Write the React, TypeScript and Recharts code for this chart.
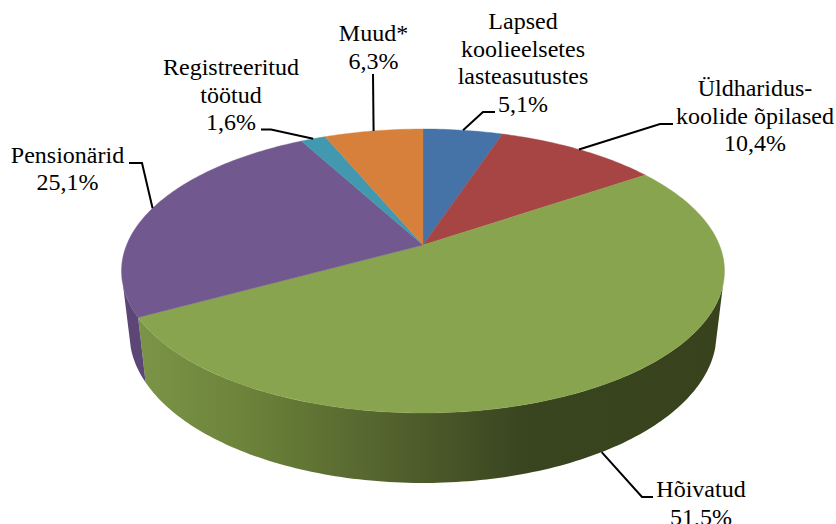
import React from 'react';
import { PieChart, Pie } from 'recharts';

const categories = ['Lapsed koolieelsetes lasteasutustes', 'Üldharidus-koolide õpilased', 'Hõivatud', 'Pensionärid', 'Registreeritud töötud', 'Muud*'];
const shares = [5.1, 10.4, 51.5, 25.1, 1.6, 6.3];
const topColors = ['#4572A7', '#A64543', '#89A44E', '#71588F', '#4198AF', '#D7803C'];
const wallColors = ['#38577f', '#7e3433', 'url(#greenWall)', '#5b4676', '#317486', '#a4612d'];

const labelLines = [
  ['Lapsed', 'koolieelsetes', 'lasteasutustes'],
  ['Üldharidus-', 'koolide õpilased'],
  ['Hõivatud'],
  ['Pensionärid'],
  ['Registreeritud', 'töötud'],
  ['Muud*'],
];

// Label layout: text centre, first baseline, leader elbows
const labelLayout = [
  { x: 523, y: 29, onWall: false, elbows: [[483, 112], [495, 112]] },
  { x: 755, y: 96, onWall: false, elbows: [[660, 124], [673, 124]] },
  { x: 701, y: 497, onWall: true, elbows: [[642, 497], [653, 497]] },
  { x: 67.5, y: 162.5, onWall: false, elbows: [[142, 163], [129, 163]] },
  { x: 231, y: 75, onWall: false, elbows: [[271, 129.5], [261, 129.5]] },
  { x: 373.5, y: 41, onWall: false, elbows: [[373, 74]] },
];

const FONT = '"Liberation Serif", "Times New Roman", serif';
const FONT_SIZE = 24;
const LINE_HEIGHT = 27.6;
const PERSPECTIVE = 0.183;
const Y_RATIO = 0.463;
const WALL_FROM = 106;
const WALL_TO = 254;
const RAD = Math.PI / 180;

type Pt = [number, number];

// theta: clockwise from 12 o'clock, in degrees
function rim(theta: number, cx: number, cy: number, r: number): Pt {
  const u = Math.sin(theta * RAD);
  const v = Math.cos(theta * RAD);
  const w = 1 + PERSPECTIVE * v;
  return [cx + (r * u) / w, cy - (r * Y_RATIO * v) / w];
}

function drop(p: Pt, cx: number): Pt {
  const depth = 70 + 0.0526 * (p[1] - 413);
  return [p[0] + (cx - p[0]) * 0.0262, p[1] + depth];
}

function range(a: number, b: number): number[] {
  const n = Math.max(2, Math.ceil(Math.abs(b - a)));
  const out: number[] = [];
  for (let i = 0; i <= n; i++) out.push(a + ((b - a) * i) / n);
  return out;
}

const toPath = (pts: Pt[]) => 'M' + pts.map((p) => `${p[0].toFixed(2)},${p[1].toFixed(2)}`).join('L') + 'Z';

function PieSlice(props: any) {
  const { cx, cy, outerRadius, startAngle, endAngle, index } = props;
  const t0 = 90 - startAngle;
  const t1 = 90 - endAngle;
  const w0 = Math.max(t0, WALL_FROM);
  const w1 = Math.min(t1, WALL_TO);
  const top = range(t0, t1).map((t) => rim(t, cx, cy, outerRadius));
  let wall: string | null = null;
  if (w1 > w0) {
    const upper = range(w0, w1).map((t) => rim(t, cx, cy, outerRadius));
    const lower = upper.map((p) => drop(p, cx)).reverse();
    wall = toPath([...upper, ...lower]);
  }
  return (
    <g>
      {wall && <path d={wall} fill={wallColors[index]} stroke="none" />}
      <path d={toPath([[cx, cy], ...top])} fill={topColors[index]} stroke={topColors[index]} strokeWidth={0.4} />
    </g>
  );
}

function SliceLabel(props: any) {
  const { cx, cy, outerRadius, midAngle, index } = props;
  const layout = labelLayout[index];
  let anchor = rim(90 - midAngle, cx, cy, outerRadius);
  if (layout.onWall) anchor = drop(anchor, cx);
  const pts = [anchor, ...layout.elbows].map((p) => p.join(',')).join(' ');
  const lines = [...labelLines[index], `${shares[index].toFixed(1).replace('.', ',')}%`];
  return (
    <g>
      <polyline points={pts} fill="none" stroke="#000" strokeWidth={2} />
      <text x={layout.x} y={layout.y} textAnchor="middle" fontFamily={FONT} fontSize={FONT_SIZE} fill="#000">
        {lines.map((l, i) => (
          <tspan key={i} x={layout.x} y={layout.y + i * LINE_HEIGHT}>
            {l}
          </tspan>
        ))}
      </text>
    </g>
  );
}

const tableData = categories.map((name, i) => ({ name, value: shares[i] }));

export default function App() {
  return (
    <div style={{ position: 'absolute', left: 0, top: 0, width: 836, height: 524, overflow: 'hidden', background: '#fff' }}>
      <PieChart width={836} height={524} margin={{ top: 0, right: 0, bottom: 0, left: 0 }}>
        <defs>
          <linearGradient id="greenWall" gradientUnits="userSpaceOnUse" x1={137} y1={0} x2={724} y2={0}>
            <stop offset="0" stopColor="#7b9547" />
            <stop offset="0.2" stopColor="#6b8139" />
            <stop offset="0.46" stopColor="#4f5e2c" />
            <stop offset="0.66" stopColor="#39451f" />
            <stop offset="1" stopColor="#38431e" />
          </linearGradient>
        </defs>
        <Pie
          data={tableData}
          dataKey="value"
          nameKey="name"
          cx={423}
          cy={245}
          innerRadius={0}
          outerRadius={296.4}
          startAngle={90}
          endAngle={-270}
          stroke="none"
          isAnimationActive={false}
          shape={PieSlice}
          label={SliceLabel}
          labelLine={false}
        />
      </PieChart>
    </div>
  );
}
